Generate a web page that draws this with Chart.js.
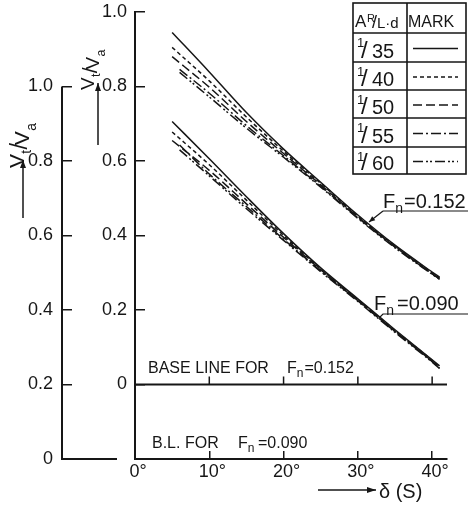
<!DOCTYPE html>
<html><head><meta charset="utf-8">
<script src="https://cdn.jsdelivr.net/npm/chart.js@4.4.1/dist/chart.umd.min.js"></script>
<style>html,body{margin:0;padding:0;background:#fff;}canvas{display:block;}</style>
</head><body>
<canvas id="c" width="468" height="512"></canvas>
<script>
// ---------- data ----------
const ratioLabels = ['1/35', '1/40', '1/50', '1/55', '1/60'];
const xTickValues = [0, 10, 20, 30, 40];
const innerTickValues = [-0.2, 0, 0.2, 0.4, 0.6, 0.8, 1.0];   // Fn = 0.152 axis
const outerTickValues = [0, 0.2, 0.4, 0.6, 0.8, 1.0, 1.2];    // Fn = 0.090 axis

const anglesA = [5, 10, 15, 20, 25, 30, 35, 40, 41];
const anglesB = [6, 10, 15, 20, 25, 30, 35, 40, 41];

// Fn = 0.152 (read on inner axis)
const fn152_35 = [0.945, 0.839, 0.730, 0.632, 0.543, 0.455, 0.374, 0.302, 0.288];
const fn152_40 = [0.905, 0.815, 0.718, 0.626, 0.540, 0.452, 0.372, 0.300, 0.286];
const fn152_50 = [0.880, 0.798, 0.706, 0.620, 0.536, 0.450, 0.370, 0.298, 0.284];
const fn152_55 = [0.846, 0.782, 0.695, 0.614, 0.532, 0.448, 0.369, 0.297, 0.283];
const fn152_60 = [0.838, 0.772, 0.688, 0.610, 0.530, 0.446, 0.367, 0.296, 0.282];

// Fn = 0.090 (read on outer axis)
const fn090_35 = [0.906, 0.806, 0.704, 0.605, 0.513, 0.430, 0.347, 0.266, 0.250];
const fn090_40 = [0.878, 0.790, 0.695, 0.600, 0.510, 0.428, 0.345, 0.265, 0.248];
const fn090_50 = [0.855, 0.775, 0.685, 0.595, 0.508, 0.426, 0.343, 0.262, 0.245];
const fn090_55 = [0.843, 0.765, 0.678, 0.590, 0.505, 0.425, 0.342, 0.262, 0.244];
const fn090_60 = [0.830, 0.760, 0.672, 0.587, 0.503, 0.423, 0.340, 0.260, 0.243];

const baseLineAngles = [0, 42];
const baseLineValues = [0, 0];

// ---------- styles ----------
const INK = '#161616';
const FONT = '"Liberation Sans", Arial, sans-serif';
const dashes = [[], [4, 3], [9, 4], [10, 3, 2, 3], [10, 3, 2, 2, 2, 3]];

function series(angles, vals, axis, i) {
  return {
    label: ratioLabels[i] + (axis === 'y' ? ' Fn=0.152' : ' Fn=0.090'),
    data: angles.map((a, k) => ({ x: a, y: vals[k] })),
    yAxisID: axis,
    borderColor: INK,
    borderWidth: 1.5,
    borderDash: dashes[i],
    pointRadius: 0,
    tension: 0.4,
    cubicInterpolationMode: 'monotone',
    fill: false
  };
}

const datasets = [
  series(anglesA, fn152_35, 'y', 0),
  series(anglesA, fn152_40, 'y', 1),
  series(anglesA, fn152_50, 'y', 2),
  series(anglesB, fn152_55, 'y', 3),
  series(anglesB, fn152_60, 'y', 4),
  series(anglesA, fn090_35, 'y2', 0),
  series(anglesA, fn090_40, 'y2', 1),
  series(anglesA, fn090_50, 'y2', 2),
  series(anglesB, fn090_55, 'y2', 3),
  series(anglesB, fn090_60, 'y2', 4),
  {
    label: 'base line Fn=0.152',
    data: baseLineAngles.map((a, k) => ({ x: a, y: baseLineValues[k] })),
    yAxisID: 'y', borderColor: INK, borderWidth: 2, pointRadius: 0, fill: false
  }
];

// ---------- helpers ----------
function arrowHead(c, x1, y1, x2, y2, len, wid) {
  const a = Math.atan2(y2 - y1, x2 - x1);
  c.beginPath();
  c.moveTo(x2, y2);
  c.lineTo(x2 - len * Math.cos(a) + wid * Math.sin(a), y2 - len * Math.sin(a) - wid * Math.cos(a));
  c.lineTo(x2 - len * Math.cos(a) - wid * Math.sin(a), y2 - len * Math.sin(a) + wid * Math.cos(a));
  c.closePath();
  c.fill();
}
function arrow(c, x1, y1, x2, y2, len, wid) {
  c.beginPath(); c.moveTo(x1, y1); c.lineTo(x2, y2); c.stroke();
  arrowHead(c, x1, y1, x2, y2, len, wid);
}
function fnText(c, x, y, size, rest, restX) {
  c.textAlign = 'left'; c.textBaseline = 'alphabetic';
  c.font = size + 'px ' + FONT;
  c.fillText('F', x, y);
  const fw = c.measureText('F').width;
  c.font = Math.round(size * 0.72) + 'px ' + FONT;
  c.fillText('n', x + fw, y + size * 0.25);
  const nw = c.measureText('n').width;
  c.font = size + 'px ' + FONT;
  c.fillText(rest, Math.max(restX !== undefined ? restX : 0, x + fw + nw + 1), y);
}
// slanted fraction "Vt / Va", written bottom-to-top
function vTitle(c, bx, startY, size) {
  c.save();
  c.translate(bx, startY);
  c.rotate(-Math.PI / 2);
  c.textAlign = 'left'; c.textBaseline = 'alphabetic';
  let x = 0;
  const parts = [['V', size, -2], ['t', size * 0.66, size * 0.22], ['/', size * 1.1, 1], ['V', size, 3], ['a', size * 0.66, size * 0.22 + 5]];
  for (const [t, s, dy] of parts) {
    c.font = s + 'px ' + FONT;
    c.fillText(t, x, dy);
    x += c.measureText(t).width + (t === '/' ? -2 : 0.3);
  }
  c.restore();
}

const annotations = {
  id: 'annotations',
  afterDraw(chart) {
    const c = chart.ctx;
    const xs = chart.scales.x, yi = chart.scales.y, yo = chart.scales.y2;
    c.save();
    c.strokeStyle = INK; c.fillStyle = INK; c.lineCap = 'butt';

    // outer axis line (0 .. 1.0) and its short bottom stub
    const ox = yo.right;
    c.lineWidth = 2;
    c.beginPath();
    c.moveTo(ox, yo.getPixelForValue(1.0));
    c.lineTo(ox, yo.getPixelForValue(0));
    c.lineTo(117, yo.getPixelForValue(0));
    c.stroke();

    // ticks on the base line of Fn = 0.152
    const by = yi.getPixelForValue(0);
    c.lineWidth = 1.5;
    xTickValues.slice(1).forEach(v => {
      const px = xs.getPixelForValue(v);
      c.beginPath(); c.moveTo(px, by); c.lineTo(px, by - 8); c.stroke();
    });

    // base line texts
    c.font = '16px ' + FONT; c.textAlign = 'left'; c.textBaseline = 'alphabetic';
    c.fillText('BASE LINE FOR', 148, 373);
    fnText(c, 287, 373, 16, '=0.152', 303);
    c.font = '16px ' + FONT;
    c.fillText('B.L. FOR', 152, 448);
    fnText(c, 238, 448, 16, '=0.090', 258);

    // curve labels with leaders
    fnText(c, 383, 208, 20, '=0.152', 403);
    c.lineWidth = 1.2;
    c.beginPath(); c.moveTo(468, 211); c.lineTo(383, 211); c.stroke();
    arrow(c, 383, 211, 369, 222, 6, 2.5);
    fnText(c, 374, 310, 20, '=0.090', 397);
    c.beginPath(); c.moveTo(468, 314); c.lineTo(383, 314); c.lineTo(379, 318); c.stroke();

    // y titles with arrows
    vTitle(c, 26, 168, 21);
    c.lineWidth = 1.5;
    arrow(c, 23, 218, 23, 160, 8, 3);
    vTitle(c, 96, 90, 19);
    arrow(c, 98, 145, 98, 83, 8, 3);

    // x title
    arrow(c, 318, 490, 376, 490, 9, 3);
    c.font = '20px ' + FONT; c.textAlign = 'left';
    c.fillText('δ (S)', 379, 498);

    // legend table
    const L = 353, M = 407, R = 466, T = 3;
    const rows = [33, 62, 90, 118, 147, 174];
    c.lineWidth = 1.6;
    c.strokeRect(L, T, R - L, rows[5] - T);
    c.beginPath(); c.moveTo(M, T); c.lineTo(M, rows[5]); c.stroke();
    rows.slice(0, 5).forEach(yv => { c.beginPath(); c.moveTo(L, yv); c.lineTo(R, yv); c.stroke(); });
    c.textBaseline = 'alphabetic';
    c.font = '17px ' + FONT; c.fillText('A', 355, 27);
    c.font = '11px ' + FONT; c.fillText('R', 367, 22);
    c.font = '18px ' + FONT; c.fillText('/', 372, 28);
    c.font = '15px ' + FONT; c.fillText('L·d', 377, 28);
    c.font = '16px ' + FONT; c.fillText('MARK', 408, 27);
    ratioLabels.forEach((lab, i) => {
      const top = rows[i], bot = rows[i + 1];
      const [num, den] = lab.split('/');
      c.font = '13px ' + FONT; c.fillText(num, 357, top + 14);
      c.font = '24px ' + FONT; c.fillText('/', 361, bot - 4);
      c.font = '20px ' + FONT; c.fillText(den, 372, bot - 4);
      const my = (top + bot) / 2 + 1;
      c.save();
      c.lineWidth = 1.3;
      c.setLineDash(dashes[i]);
      c.beginPath(); c.moveTo(413, my); c.lineTo(458, my); c.stroke();
      c.restore();
    });
    c.restore();
  }
};

function noPad(s) { s.paddingTop = 0; s.paddingBottom = 0; }

new Chart(document.getElementById('c'), {
  type: 'line',
  data: { datasets },
  plugins: [annotations],
  options: {
    responsive: false,
    animation: false,
    devicePixelRatio: 1,
    events: [],
    layout: { padding: { top: 12, right: 21, left: 0, bottom: 0 } },
    plugins: { legend: { display: false }, tooltip: { enabled: false } },
    scales: {
      x: {
        type: 'linear', position: 'bottom', min: 0, max: 42,
        afterBuildTicks: s => { s.ticks = xTickValues.map(v => ({ value: v })); },
        afterFit: s => { s.height = 53; s.paddingLeft = 0; s.paddingRight = 0; },
        border: { display: true, color: INK, width: 2 },
        grid: { drawOnChartArea: false, drawTicks: true, tickLength: -8, color: INK, lineWidth: 1.5 },
        ticks: { color: INK, font: { family: FONT, size: 18 }, padding: 10, labelOffset: 3, maxRotation: 0,
                 callback: v => v + '°' }
      },
      y: {
        type: 'linear', position: 'left', weight: 0, min: -0.2, max: 1.0,
        afterBuildTicks: s => { s.ticks = innerTickValues.map(v => ({ value: v })); },
        afterFit: s => { s.width = 73; noPad(s); },
        border: { display: true, color: INK, width: 2 },
        grid: { drawOnChartArea: false, drawTicks: true, tickLength: -10, lineWidth: 1.5,
                color: ctx => (ctx.tick && ctx.tick.value < -0.01) ? 'rgba(0,0,0,0)' : INK },
        ticks: { color: INK, font: { family: FONT, size: 18 }, padding: 18,
                 callback: v => v < -0.01 ? '' : (Math.abs(v) < 1e-9 ? '0' : v.toFixed(1)) }
      },
      y2: {
        type: 'linear', position: 'left', weight: 1, min: 0, max: 1.2,
        afterBuildTicks: s => { s.ticks = outerTickValues.map(v => ({ value: v })); },
        afterFit: s => { s.width = 62; noPad(s); },
        border: { display: false },
        grid: { drawOnChartArea: false, drawTicks: true, tickLength: -10, lineWidth: 1.5,
                color: ctx => (ctx.tick && (ctx.tick.value > 1.01 || ctx.tick.value < 0.01)) ? 'rgba(0,0,0,0)' : INK },
        ticks: { color: INK, font: { family: FONT, size: 18 }, padding: 19,
                 callback: v => v > 1.01 ? '' : (Math.abs(v) < 1e-9 ? '0' : v.toFixed(1)) }
      }
    }
  }
});
</script>
</body></html>
